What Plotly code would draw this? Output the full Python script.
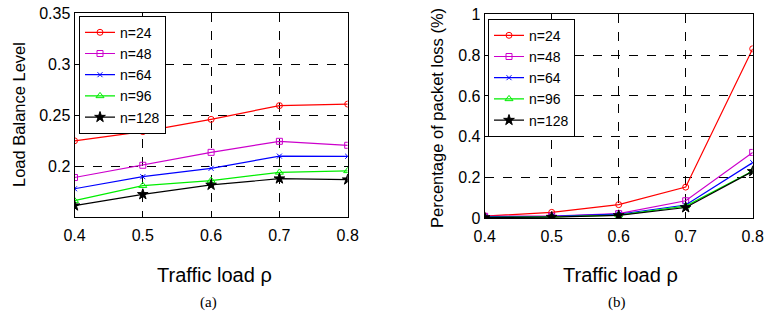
import plotly.graph_objects as go

rho = [0.4, 0.5, 0.6, 0.7, 0.8]
names = ["n=24", "n=48", "n=64", "n=96", "n=128"]
colors = ["#ff0000", "#cc00cc", "#0000ff", "#00ee00", "#000000"]
symbols = ["circle-open", "square-open", "x-thin-open", "triangle-up-open", "star"]
sizes = [6, 6, 5, 7, 8]

# (a) Load balance level
lb = {
    "n=24": [0.225, 0.234, 0.246, 0.2595, 0.261],
    "n=48": [0.189, 0.201, 0.2137, 0.2245, 0.2206],
    "n=64": [0.178, 0.1898, 0.198, 0.210, 0.2098],
    "n=96": [0.1663, 0.181, 0.186, 0.194, 0.1955],
    "n=128": [0.1614, 0.1725, 0.1817, 0.1879, 0.1869],
}
# (b) Packet loss (%)
pl = {
    "n=24": [0.011, 0.029, 0.067, 0.153, 0.831],
    "n=48": [0.010, 0.011, 0.023, 0.086, 0.323],
    "n=64": [0.008, 0.010, 0.020, 0.065, 0.273],
    "n=96": [0.005, 0.007, 0.016, 0.060, 0.232],
    "n=128": [0.004, 0.006, 0.014, 0.053, 0.230],
}

W, H = 764, 322

def fx(s):
    return s / W

def fy(s):
    return (H - s) / H

fig = go.Figure()
for i, n in enumerate(names):
    fig.add_trace(go.Scatter(
        x=rho, y=lb[n], name=n, mode="lines+markers",
        line=dict(color=colors[i], width=1.2),
        marker=dict(symbol=symbols[i], size=sizes[i], color=colors[i],
                    line=dict(color=colors[i], width=1)),
        xaxis="x", yaxis="y", legend="legend"))
for i, n in enumerate(names):
    fig.add_trace(go.Scatter(
        x=rho, y=pl[n], name=n, mode="lines+markers",
        line=dict(color=colors[i], width=1.2),
        marker=dict(symbol=symbols[i], size=sizes[i], color=colors[i],
                    line=dict(color=colors[i], width=1)),
        xaxis="x2", yaxis="y2", legend="legend2"))

SANS = "Liberation Sans, Arial, sans-serif"
axfont = dict(family=SANS, size=16, color="black")
common = dict(showline=True, linecolor="black", linewidth=1, mirror="ticks",
              ticks="inside", ticklen=4, tickcolor="black",
              showgrid=True, gridcolor="black", griddash="dash", gridwidth=0.8,
              zeroline=False, tickfont=axfont, automargin=False,
              ticklabeloverflow="allow")

fig.update_layout(
    width=W, height=H, margin=dict(l=0, r=0, t=0, b=0),
    paper_bgcolor="white", plot_bgcolor="white",
    xaxis=dict(domain=[fx(74.5), fx(347.7)], range=[0.4, 0.8], tickvals=rho,
               ticktext=[f"{v:.1f}" for v in rho], anchor="y",
               ticklabelstandoff=3, **common),
    yaxis=dict(domain=[fy(217.3), fy(13.3)], range=[0.15, 0.35],
               tickvals=[0.2, 0.25, 0.3, 0.35],
               ticktext=["0.2", "0.25", "0.3", "0.35"], anchor="x", **common),
    xaxis2=dict(domain=[fx(484.7), fx(752.7)], range=[0.4, 0.8], tickvals=rho,
                ticktext=[f"{v:.1f}" for v in rho], anchor="y2",
                ticklabelstandoff=3, **common),
    yaxis2=dict(domain=[fy(218.3), fy(14.3)], range=[0, 1],
                tickvals=[0, 0.2, 0.4, 0.6, 0.8, 1],
                ticktext=["0", "0.2", "0.4", "0.6", "0.8", "1"], anchor="x2", **common),
    legend=dict(x=fx(79), y=fy(15.7), xanchor="left", yanchor="top",
                bgcolor="white", bordercolor="black", borderwidth=1,
                font=dict(family=SANS, size=14, color="black"),
                tracegroupgap=0, itemwidth=30),
    legend2=dict(x=fx(488), y=fy(18.7), xanchor="left", yanchor="top",
                 bgcolor="white", bordercolor="black", borderwidth=1,
                 font=dict(family=SANS, size=14, color="black"),
                 tracegroupgap=0, itemwidth=30),
    showlegend=True,
)

annotations = []
tfont = dict(family=SANS, size=20, color="black")
for text, xp, yp in [("Traffic load ρ", 214, 275), ("Traffic load ρ", 620, 275)]:
    annotations.append(dict(text=text, x=fx(xp), y=fy(yp), xref="paper", yref="paper",
                            showarrow=False, xanchor="center", yanchor="middle", font=tfont))
sfont = dict(family="Liberation Serif, DejaVu Serif, serif", size=15, color="black")
for text, xp, yp in [("(a)", 208, 302), ("(b)", 617, 302)]:
    annotations.append(dict(text=text, x=fx(xp), y=fy(yp), xref="paper", yref="paper",
                            showarrow=False, xanchor="center", yanchor="middle", font=sfont))
yfont = dict(family=SANS, size=16.5, color="black")
for text, xp, yp in [("Load Balance Level", 19, 115), ("Percentage of packet loss (%)", 437, 118)]:
    annotations.append(dict(text=text, x=fx(xp), y=fy(yp), xref="paper", yref="paper",
                            showarrow=False, textangle=-90, xanchor="center",
                            yanchor="middle", font=yfont))
fig.update_layout(annotations=annotations)

fig.write_html("out.html", config={"displayModeBar": False},
               post_script="document.body.style.margin='0';document.body.style.overflow='hidden';")
